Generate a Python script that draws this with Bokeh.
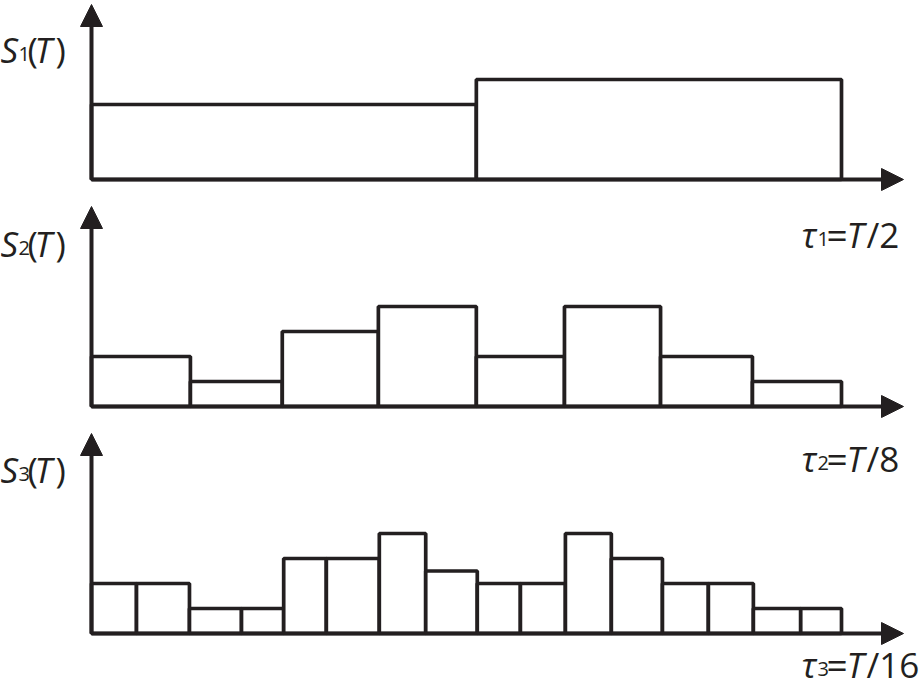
from bokeh.plotting import figure
from bokeh.models import Range1d, Arrow, NormalHead
from bokeh.core.properties import value
from bokeh.embed import file_html
from bokeh.resources import INLINE

# ---------------- data (x in units of T/16, heights in counts) ----------------
s1_edges = [0, 8.21, 16.0]
s1_values = [3, 4]

s2_edges = [0, 2.11, 4.07, 6.12, 8.21, 10.09, 12.14, 14.10, 16.0]
s2_values = [2, 1, 3, 4, 2, 4, 2, 1]

s3_edges = [0, 0.96, 2.09, 3.20, 4.10, 5.01, 6.14, 7.13, 8.23,
            9.15, 10.11, 11.09, 12.18, 13.16, 14.12, 15.13, 16.0]
s3_values = [2, 2, 1, 1, 3, 3, 4, 2.5, 2, 2, 4, 3, 2, 2, 1, 1]

panel_names = ["default", "p2", "p3"]
y_labels_sub = ["1", "2", "3"]
tau_denoms = ["2", "8", "16"]
y_axis_tops = [7.0, 8.0, 8.0]

# ---------------- layout ----------------
INK = "#231f20"
W, H = 919, 694
REF_W, REF_H = 919, 694
X0_PX, UX = 91, 46.875
UY = 25.0
BASE_PX = {"default": 179, "p2": 406, "p3": 633}
S_BASELINE_PX = {"default": 49, "p2": 243, "p3": 469}
TAU_BASELINE_PX = {"default": 234, "p2": 458, "p3": 664}
FONT = value("Open Sans")
MAIN, SUB, EQ = 35, 20, 37


def xr(px):
    return (px - X0_PX) / UX


def yr(px, name):
    return (BASE_PX[name] - px) / UY


def yrange(name):
    return Range1d(yr(REF_H, name), yr(0, name))


p = figure(width=W, height=H, output_backend="svg", toolbar_location=None,
           x_range=Range1d(xr(0), xr(REF_W)), y_range=yrange("default"),
           x_axis_type=None, y_axis_type=None, min_border=0)
p.extra_y_ranges = {"p2": yrange("p2"), "p3": yrange("p3")}
p.grid.visible = False
p.outline_line_color = None
p.background_fill_color = "white"
p.border_fill_color = "white"

for name, edges, vals in zip(panel_names,
                             [s1_edges, s2_edges, s3_edges],
                             [s1_values, s2_values, s3_values]):
    p.quad(left=edges[:-1], right=edges[1:], bottom=[0] * len(vals), top=vals,
           fill_color="white", line_color=INK, line_width=3.7,
           y_range_name=name)


def put_text(pieces, x0_px, base_px, name):
    for txt, dx, dy, style, size in pieces:
        p.text(x=[xr(x0_px + dx)], y=[yr(base_px + dy, name)], text=[txt],
               text_font=FONT, text_font_size=f"{size}px",
               text_font_style=style, text_color=INK,
               text_baseline="alphabetic", text_align="left",
               y_range_name=name)


for name, sub, den, ytop in zip(panel_names, y_labels_sub, tau_denoms, y_axis_tops):
    # axes with arrow heads
    p.add_layout(Arrow(end=NormalHead(size=22, fill_color=INK, line_color=INK, line_width=1),
                       x_start=0, y_start=0, x_end=xr(903), y_end=0,
                       line_color=INK, line_width=4, y_range_name=name))
    p.add_layout(Arrow(end=NormalHead(size=22, fill_color=INK, line_color=INK, line_width=1),
                       x_start=0, y_start=0, x_end=0, y_end=ytop,
                       line_color=INK, line_width=4, y_range_name=name))
    # S_k(T)
    put_text([("S", 0, 0, "italic", MAIN),
              (sub, 18, 4, "normal", SUB),
              ("(", 27, 0, "normal", MAIN),
              ("T", 34, 0, "italic", MAIN),
              (")", 55, 0, "normal", MAIN)],
             0, S_BASELINE_PX[name], name)
    # tau_k = T/n
    put_text([("τ", 0, 0, "italic", MAIN),
              (sub, 16, 4, "normal", SUB),
              ("=", 25, 0, "normal", EQ),
              ("T", 45, 0, "italic", MAIN),
              ("/" + den, 65, 0, "normal", MAIN)],
             801, TAU_BASELINE_PX[name], name)

open("out.html", "w").write(file_html(p, INLINE))
